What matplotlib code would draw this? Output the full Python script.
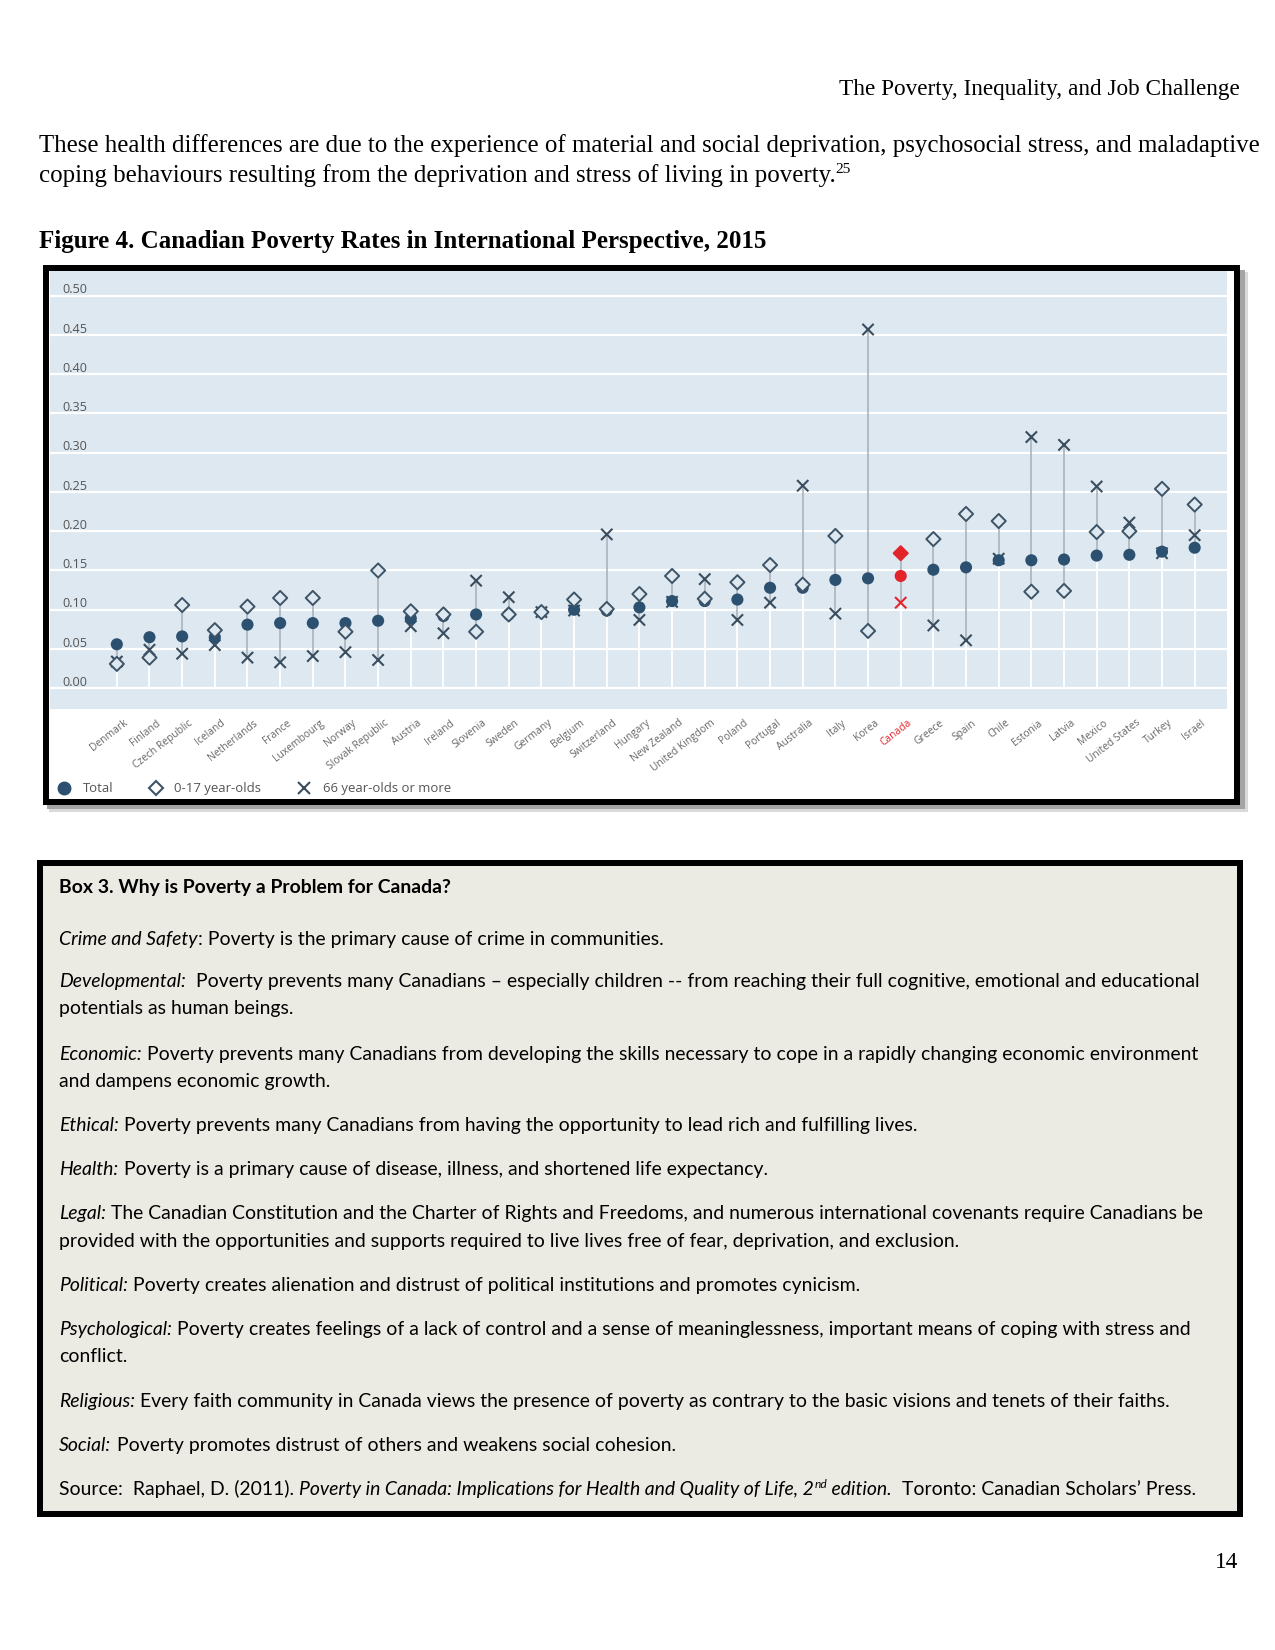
import matplotlib
matplotlib.use("Agg")
import matplotlib.pyplot as plt
from matplotlib.patches import Rectangle
from matplotlib.lines import Line2D

W, H = 1275, 1650

# ---- data (OECD poverty rates, 2015) ----
countries = ["Denmark", "Finland", "Czech Republic", "Iceland", "Netherlands", "France",
             "Luxembourg", "Norway", "Slovak Republic", "Austria", "Ireland", "Slovenia",
             "Sweden", "Germany", "Belgium", "Switzerland", "Hungary", "New Zealand",
             "United Kingdom", "Poland", "Portugal", "Australia", "Italy", "Korea", "Canada",
             "Greece", "Spain", "Chile", "Estonia", "Latvia", "Mexico", "United States",
             "Turkey", "Israel"]
total = [0.056, 0.065, 0.066, 0.065, 0.081, 0.083, 0.083, 0.083, 0.086, 0.089,
         0.092, 0.094, 0.094, 0.097, 0.100, 0.099, 0.103, 0.111, 0.111, 0.113,
         0.128, 0.128, 0.138, 0.140, 0.143, 0.151, 0.154, 0.163, 0.163, 0.164,
         0.169, 0.170, 0.174, 0.179]
children = [0.031, 0.039, 0.106, 0.074, 0.104, 0.115, 0.115, 0.072, 0.150, 0.098,
            0.094, 0.072, 0.094, 0.097, 0.113, 0.101, 0.120, 0.143, 0.114, 0.135,
            0.157, 0.132, 0.194, 0.073, 0.172, 0.190, 0.222, 0.213, 0.123, 0.124,
            0.199, 0.200, 0.254, 0.234]
elderly = [0.034, 0.049, 0.044, 0.055, 0.039, 0.033, 0.041, 0.046, 0.036, 0.079,
           0.070, 0.137, 0.116, 0.097, 0.099, 0.196, 0.087, 0.110, 0.139, 0.087,
           0.109, 0.258, 0.095, 0.457, 0.109, 0.080, 0.061, 0.165, 0.320, 0.310,
           0.257, 0.211, 0.172, 0.195]
yticks = [0.00, 0.05, 0.10, 0.15, 0.20, 0.25, 0.30, 0.35, 0.40, 0.45, 0.50]
legend_labels = ["Total", "0-17 year-olds", "66 year-olds or more"]
highlight = "Canada"

header = "The Poverty, Inequality, and Job Challenge"
para = ["These health differences are due to the experience of material and social deprivation, psychosocial stress, and maladaptive",
        "coping behaviours resulting from the deprivation and stress of living in poverty."]
fig_title = "Figure 4. Canadian Poverty Rates in International Perspective, 2015"

N = {}
I = {"style": "italic"}
B = {"weight": "bold"}
box_lines = [
    (892.7, [("Box 3. Why is Poverty a Problem for Canada?", B)]),
    (945.5, [("Crime and Safety", I), (": Poverty is the primary cause of crime in communities.", N)]),
    (987, [("Developmental:", I), ("  Poverty prevents many Canadians \u2013 especially children -- from reaching their full cognitive, emotional and educational", N)]),
    (1014, [("potentials as human beings.", N)]),
    (1060, [("Economic:", I), (" Poverty prevents many Canadians from developing the skills necessary to cope in a rapidly changing economic environment", N)]),
    (1086.7, [("and dampens economic growth.", N)]),
    (1131, [("Ethical:", I), (" Poverty prevents many Canadians from having the opportunity to lead rich and fulfilling lives.", N)]),
    (1175, [("Health:", I), (" Poverty is a primary cause of disease, illness, and shortened life expectancy.", N)]),
    (1219, [("Legal:", I), (" The Canadian Constitution and the Charter of Rights and Freedoms, and numerous international covenants require Canadians be", N)]),
    (1246.5, [("provided with the opportunities and supports required to live lives free of fear, deprivation, and exclusion.", N)]),
    (1291, [("Political:", I), (" Poverty creates alienation and distrust of political institutions and promotes cynicism.", N)]),
    (1335, [("Psychological:", I), (" Poverty creates feelings of a lack of control and a sense of meaninglessness, important means of coping with stress and", N)]),
    (1362, [("conflict.", N)]),
    (1406.7, [("Religious:", I), (" Every faith community in Canada views the presence of poverty as contrary to the basic visions and tenets of their faiths.", N)]),
    (1450.7, [("Social:", I), (" Poverty promotes distrust of others and weakens social cohesion.", N)]),
    (1495, [("Source:  Raphael, D. (2011). ", N),
            ("Poverty in Canada: Implications for Health and Quality of Life, 2", I),
            ("nd", {"style": "italic", "sup": True}), (" edition.", I),
            ("  Toronto: Canadian Scholars\u2019 Press.", N)]),
]

SERIF = ["Liberation Serif", "DejaVu Serif"]
BOXFONT = ["Lato", "DejaVu Sans"]
CHARTFONT = ["Open Sans", "DejaVu Sans"]

fig = plt.figure(figsize=(W / 100, H / 100), dpi=100)
fig.patch.set_facecolor("white")
renderer = fig.canvas.get_renderer()


def fx(px):
    return px / W


def fy(py):
    return 1 - py / H


def text_width(s, **kw):
    t = fig.text(0, 0, s + "|", **kw)
    w = t.get_window_extent(renderer).width
    t.set_text("|")
    w -= t.get_window_extent(renderer).width
    t.remove()
    return w


def run_kw(p, size, family, color):
    fs = size * 0.62 if p.get("sup") else size
    return dict(fontsize=fs, family=family, style=p.get("style", "normal"),
                weight=p.get("weight", "normal"), color=color)


def runs_width(runs, size, family):
    return sum(text_width(s, **run_kw(p, size, family, "k")) for s, p in runs)


def fit(runs, target, family, base=12):
    return base * target / runs_width(runs, base, family)


def draw_runs(x, y, runs, size, family, color="black"):
    for s, p in runs:
        kw = run_kw(p, size, family, color)
        dy = size * 100 / 72 * 0.36 if p.get("sup") else 0
        fig.text(fx(x), fy(y - dy), s, va="baseline", ha="left", **kw)
        x += text_width(s, **kw)


def rect(x0, y0, x1, y1, **kw):
    r = Rectangle((fx(x0), fy(y1)), (x1 - x0) / W, (y1 - y0) / H,
                  transform=fig.transFigure, **kw)
    fig.add_artist(r)
    return r


# ---- page text ----
hs = fit([(header, N)], 399, SERIF)
fig.text(fx(1239.5), fy(95), header, ha="right", va="baseline", fontsize=hs, family=SERIF)

ps = fit([(para[0], N)], 1214, SERIF)
draw_runs(39, 152, [(para[0], N)], ps, SERIF)
draw_runs(39, 182, [(para[1], N), ("25", {"sup": True})], ps, SERIF)

ts = fit([(fig_title, B)], 722, SERIF)
draw_runs(39, 248, [(fig_title, B)], ts, SERIF)

fig.text(fx(1238), fy(1568), "14", ha="right", va="baseline", fontsize=hs, family=SERIF)

# ---- chart frame with shadow ----
rect(49, 272, 1248, 812, facecolor="#dadada", edgecolor="none", zorder=-4)
rect(47, 270, 1245, 809, facecolor="#a4a4a4", edgecolor="none", zorder=-3)
rect(43, 265, 1240, 805, facecolor="white", edgecolor="none", zorder=-2)
rect(46, 268, 1237, 802, facecolor="none", edgecolor="black", linewidth=6 * 0.72, zorder=6)

# ---- chart ----
ax_l, ax_r, ax_t, ax_b = 50, 1227, 271, 708.5
ax = fig.add_axes([fx(ax_l), fy(ax_b), (ax_r - ax_l) / W, (ax_b - ax_t) / H])
ax.set_facecolor("#dde8f1")
ax.set_xlim(-2.046, 33.99)
ax.set_ylim(-0.0258, 0.5315)
for s in ax.spines.values():
    s.set_visible(False)
ax.set_xticks([])
ax.set_yticks([])

ytick_size = fit([("0.50", N)], 25, CHARTFONT)
for v in yticks:
    ax.axhline(v, color="white", lw=1.6, zorder=1)
    ax.text(12.7 / (ax_r - ax_l), v + 0.0029, f"{v:.2f}", transform=ax.get_yaxis_transform(),
            ha="left", va="baseline", fontsize=ytick_size, family=CHARTFONT, color="#555555")

xs = list(range(len(countries)))
for i in xs:
    vals = [total[i], children[i], elderly[i]]
    lo, hi = min(vals), max(vals)
    ax.plot([i, i], [0, lo], color="white", lw=1.3, zorder=2, solid_capstyle="butt")
    ax.plot([i, i], [lo, hi], color="#a6afb8", lw=1.1, zorder=2, solid_capstyle="butt")

RED = "#e3242b"
dot_c = [RED if c == highlight else "#2c5070" for c in countries]
dia_c = [RED if c == highlight else "#3d5366" for c in countries]
dia_f = [RED if c == highlight else "#dde8f1" for c in countries]
x_c = [RED if c == highlight else "#3a4d5e" for c in countries]

ax.scatter(xs, elderly, marker="x", s=66, c=x_c, linewidths=1.5, zorder=3)
ax.scatter(xs, total, marker="o", s=76, c=dot_c, edgecolors="none", zorder=4)
ax.scatter(xs, children, marker="D", s=52, facecolors=dia_f, edgecolors=dia_c,
           linewidths=1.4, zorder=5)

# rotated country labels
px_per_x = (ax_r - ax_l) / (33.99 + 2.046)
px_per_y = (ax_b - ax_t) / (0.5315 + 0.0258)
lab_size = fit([("Slovak Republic", N)], 74, CHARTFONT)
for i, c in zip(xs, countries):
    ax.text(i + 6 / px_per_x, -0.0258 - 9 / px_per_y, c, rotation=38,
            rotation_mode="anchor", ha="right", va="top", fontsize=lab_size,
            family=CHARTFONT, color=RED if c == highlight else "#666666",
            clip_on=False, zorder=7)

# legend
leg_size = fit([(legend_labels[2], N)], 126.7, CHARTFONT)
leg_y = 788
fig.add_artist(Line2D([fx(64)], [fy(leg_y)], marker="o", markersize=9, color="#2c5070",
                      linestyle="none", transform=fig.transFigure))
fig.add_artist(Line2D([fx(155.7)], [fy(leg_y)], marker="D", markersize=7.4, markerfacecolor="white",
                      markeredgecolor="#3d5366", markeredgewidth=1.5, linestyle="none",
                      transform=fig.transFigure))
fig.add_artist(Line2D([fx(304)], [fy(leg_y)], marker="x", markersize=8, color="#3a4d5e",
                      markeredgewidth=1.5, linestyle="none", transform=fig.transFigure))
for lx, lab in zip([83, 174, 323], legend_labels):
    fig.text(fx(lx), fy(792.5), lab, ha="left", va="baseline", fontsize=leg_size,
             family=CHARTFONT, color="#555555")

# ---- Box 3 ----
rect(39.5, 863, 1240, 1514, facecolor="#ecebe3", edgecolor="black", linewidth=6 * 0.72, zorder=1)
bs = fit(box_lines[2][1], 1137.5, BOXFONT)
for by, runs in box_lines:
    draw_runs(59.3, by, runs, bs, BOXFONT)

fig.savefig("out.png", dpi=100)
